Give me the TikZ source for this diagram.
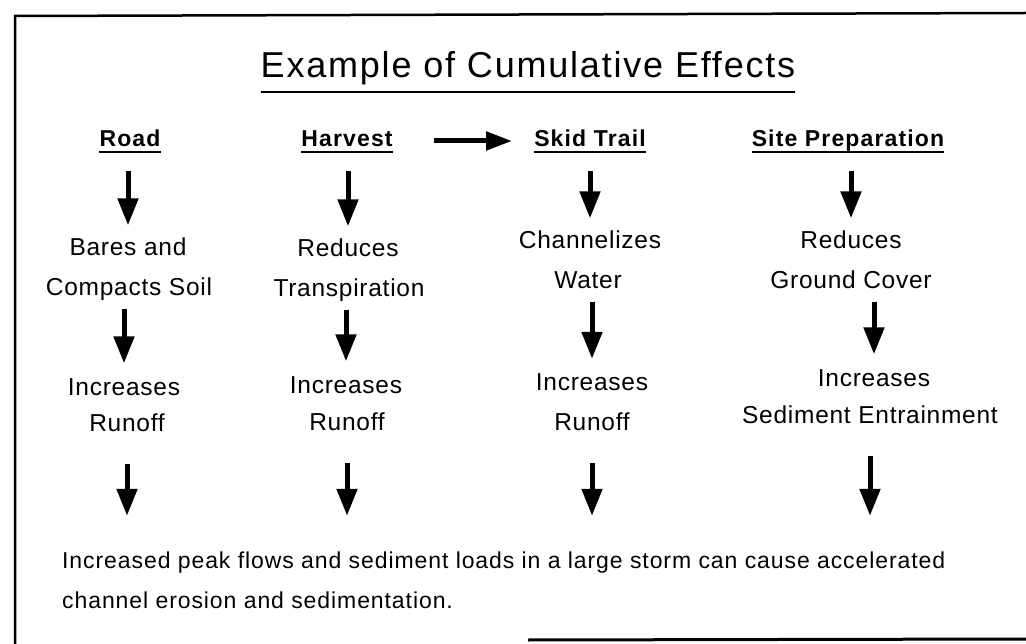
\documentclass[tikz,border=0pt]{standalone}
\usepackage{fontspec}
\setmainfont{Liberation Sans}
\newfontfamily\bodyf[LetterSpace=3]{Liberation Sans}
\newfontfamily\headf[LetterSpace=5]{Liberation Sans}
\newfontfamily\titlef[LetterSpace=5]{Liberation Sans}
\newfontfamily\notef[LetterSpace=4]{Liberation Sans}
\usetikzlibrary{arrows.meta}
\begin{document}
\begin{tikzpicture}[x=1pt,y=-1pt,
  body/.style={font=\bodyf\fontsize{24.5}{29}\selectfont, inner sep=0pt, text height=18pt, text depth=5pt, anchor=base},
  head/.style={font=\headf\bfseries\fontsize{23}{28}\selectfont, inner sep=0pt, text height=17pt, text depth=5pt, anchor=base},
  ttl/.style={font=\titlef\fontsize{36}{42}\selectfont, inner sep=0pt, text height=26pt, text depth=14pt, anchor=base},
  note/.style={font=\notef\fontsize{23}{40}\selectfont, inner sep=0pt, text height=17pt, text depth=5pt, anchor=base west},
  darr/.style={line width=5pt, -{Triangle[width=20pt,length=27pt]}},
  rowone/.style={darr, shorten <=19pt, shorten >=12pt},
  rowtwo/.style={darr, shorten <=8pt, shorten >=14pt},
  rowthree/.style={darr, shorten <=27pt, shorten >=35pt},
  harr/.style={line width=5pt, -{Triangle[width=18pt,length=26pt]}, shorten <=41pt, shorten >=22pt},
  uline/.style={line width=2.5pt},
  framel/.style={line width=2.5pt}
]
\useasboundingbox (0,0) rectangle (1026,644);
% frame
\draw[framel] (15,644) -- (15,16) -- (1026,13);
\draw[line width=3pt] (528,640) -- (1026,639);
% title
\node[ttl] (title) at (528,78) {Example of Cumulative Effects};
\draw[uline] (title.south west) -- (title.south east);
% headings
\node[head] (road) at (130,147) {Road};
\node[head] (harvest) at (347,147) {Harvest};
\node[head] (skid) at (590,147) {Skid Trail};
\node[head] (site) at (848,147) {Site Preparation};
\foreach \n in {road,harvest,skid,site}
  \draw[uline] (\n.south west) -- (\n.south east);
\draw[harr] (harvest.east) -- (skid.west);
% row 1
\node[body] (roada) at (128,255.5) {Bares and};
\node[body] (roadb) at (129,295.5) {Compacts Soil};
\node[body] (harva) at (348,256.5) {Reduces};
\node[body] (harvb) at (349,296.5) {Transpiration};
\node[body] (skida) at (590,248.5) {Channelizes};
\node[body] (skidb) at (588,288.5) {Water};
\node[body] (sitea) at (851,248.5) {Reduces};
\node[body] (siteb) at (851,288.5) {Ground Cover};
% row 2
\node[body] (roadc) at (124,395.5) {Increases};
\node[body] (roadd) at (127,431.5) {Runoff};
\node[body] (harvc) at (346,393.5) {Increases};
\node[body] (harvd) at (347,430.5) {Runoff};
\node[body] (skidc) at (592,391) {Increases};
\node[body] (skidd) at (592,431) {Runoff};
\node[body] (sitec) at (874,386.5) {Increases};
\node[body] (sited) at (870,423.5) {Sediment Entrainment};
% note
\node[note] (notea) at (62,568) {Increased peak flows and sediment loads in a large storm can cause accelerated};
\node[note] (noteb) at (62,608) {channel erosion and sedimentation.};
% arrows row 1
\draw[rowone] (road.south -| roada.north) -- (roada.north);
\draw[rowone] (harvest.south -| harva.north) -- (harva.north);
\draw[rowone] (skid.south -| skida.north) -- (skida.north);
\draw[rowone] (site.south -| sitea.north) -- (sitea.north);
% arrows row 2
\draw[rowtwo] (roadb.south -| roadc.north) -- (roadc.north);
\draw[rowtwo] (harvb.south -| harvc.north) -- (harvc.north);
\draw[rowtwo] (skidb.south -| skidc.north) -- (skidc.north);
\draw[rowtwo] (siteb.south -| sitec.north) -- (sitec.north);
% arrows row 3
\draw[rowthree] (roadd.south) -- (roadd.south |- notea.north);
\draw[rowthree] (harvd.south) -- (harvd.south |- notea.north);
\draw[rowthree] (skidd.south) -- (skidd.south |- notea.north);
\draw[rowthree] (sited.south) -- (sited.south |- notea.north);
\end{tikzpicture}
\end{document}
